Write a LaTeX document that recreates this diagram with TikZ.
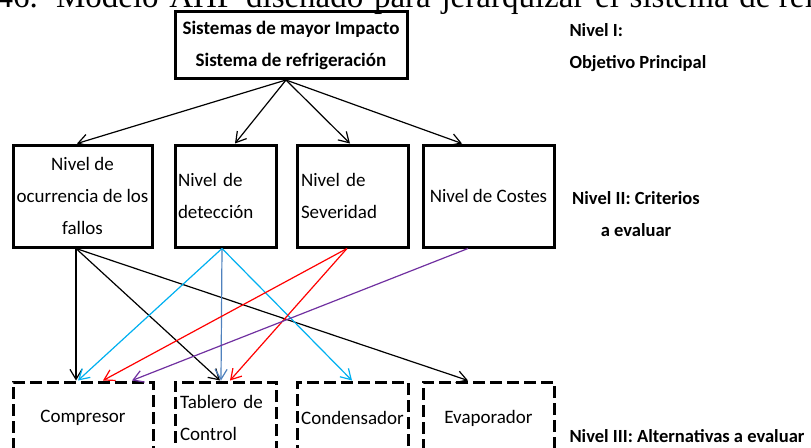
\documentclass[tikz,border=0pt]{standalone}
\usepackage{fontspec}
\setmainfont{Carlito}
\newfontfamily\captionfont{Liberation Serif}
\usetikzlibrary{arrows.meta,calc}

\tikzset{every picture/.style={line width=0.75pt},
  mainbox/.style={draw, line width=2.25pt, minimum width=174pt, minimum height=50.25pt, inner sep=2pt, align=center, font=\bfseries\fontsize{14.25}{24}\selectfont},
  critbox/.style={draw, line width=2.25pt, minimum height=76.5pt, inner sep=2.25pt, align=center, font=\fontsize{14.25}{24}\selectfont},
  altbox/.style={draw, line width=2.25pt, dash pattern=on 9pt off 3.75pt, minimum height=54pt, inner sep=2.25pt, align=center, font=\fontsize{14.25}{24}\selectfont},
  levellabel/.style={inner sep=0pt, font=\bfseries\fontsize{13.9}{24}\selectfont},
  link/.style={line width=0.9pt, -{Straight Barb[length=7.5pt,width=9pt]}},
}

\begin{document}
\begin{tikzpicture}[x=0.75pt,y=0.75pt,yscale=-1,xscale=1]

\useasboundingbox (0,0) rectangle (811,447);
\clip (0,0) rectangle (811,447);

% caption cut at the top
\node (caption) [anchor=base west, inner sep=0pt, font=\captionfont\fontsize{24.75}{30}\selectfont] at (-4,7) {\makebox[580.5pt][s]{46. Modelo AHP diseñado para jerarquizar el sistema de}\ refrigeración};

% level I
\node (goal) [mainbox] at (291,45) {Sistemas de mayor Impacto\\Sistema de refrigeración};

% level II
\node (occur) [critbox, minimum width=104.25pt] at (82.5,196) {Nivel de\\ocurrencia de los\\fallos};
\node (detect) [critbox, minimum width=75.75pt, text width=71.25pt, align=left] at (225.5,196) {Nivel de\\detección};
\node (sever) [critbox, minimum width=83.25pt, text width=77.25pt, inner xsep=3pt, align=left] at (352.5,196) {Nivel de\\Severidad};
\node (cost) [critbox, minimum width=98.25pt] at (488.5,196) {Nivel de Costes};

% level III
\node (comp) [altbox, minimum width=105pt] at (83,418) {Compresor};
\node (board) [altbox, minimum width=75.75pt, text width=68.25pt, inner xsep=3.75pt, align=left] at (225.5,418) {Tablero de\\Control};
\node (cond) [altbox, minimum width=83.25pt] at (352.5,418) {Condensador};
\node (evap) [altbox, minimum width=98.25pt] at (488.5,418) {Evaporador};

% level labels
\node (lvlI) [levellabel, anchor=west, align=left] at (569,48) {Nivel I:\\Objetivo Principal};
\node (lvlII) [levellabel, align=center] at (636,214) {Nivel II: Criterios\\a evaluar};
\node (lvlIII) [levellabel, anchor=west] at (569,436) {Nivel III: Alternativas a evaluar};

% goal to criteria
\coordinate (g) at ($(goal.south)+(-5,0)$);
\draw [link] (g) -- ($(occur.north)+(-5.5,0)$);
\draw [link] (g) -- ($(detect.north)+(9.5,0)$);
\draw [link] (g) -- ($(sever.north)+(-2.5,0)$);
\draw [link] (g) -- ($(cost.north)+(-26.5,0)$);

% criteria to alternatives
\coordinate (o) at ($(occur.south)+(-6.5,0)$);
\draw [link] (o) -- ($(comp.north)+(-7,0)$);
\draw [link] (o) -- ($(board.north)+(-5.5,0)$);
\draw [link] (o) -- ($(evap.north)+(-20.5,0)$);

\coordinate (d) at ($(detect.south)+(-3.5,0)$);
\draw [link, color={rgb, 255:red, 0; green, 176; blue, 240 }] (d) -- ($(comp.north)+(-5,0)$);
\draw [link, color={rgb, 255:red, 79; green, 129; blue, 189 }] (d) -- ($(board.north)+(-4.5,0)$);
\draw [link, color={rgb, 255:red, 0; green, 176; blue, 240 }] (d) -- ($(cond.north)+(-0.5,0)$);

\coordinate (s) at ($(sever.south)+(-5.5,0)$);
\draw [link, color={rgb, 255:red, 255; green, 0; blue, 0 }] (s) -- ($(comp.north)+(20,0)$);
\draw [link, color={rgb, 255:red, 255; green, 0; blue, 0 }] (s) -- ($(board.north)+(4.5,0)$);

\coordinate (c) at ($(cost.south)+(-20.5,0)$);
\draw [link, color={rgb, 255:red, 112; green, 48; blue, 160 }] (c) -- ($(comp.north)+(49,0)$);
\end{tikzpicture}
\end{document}
